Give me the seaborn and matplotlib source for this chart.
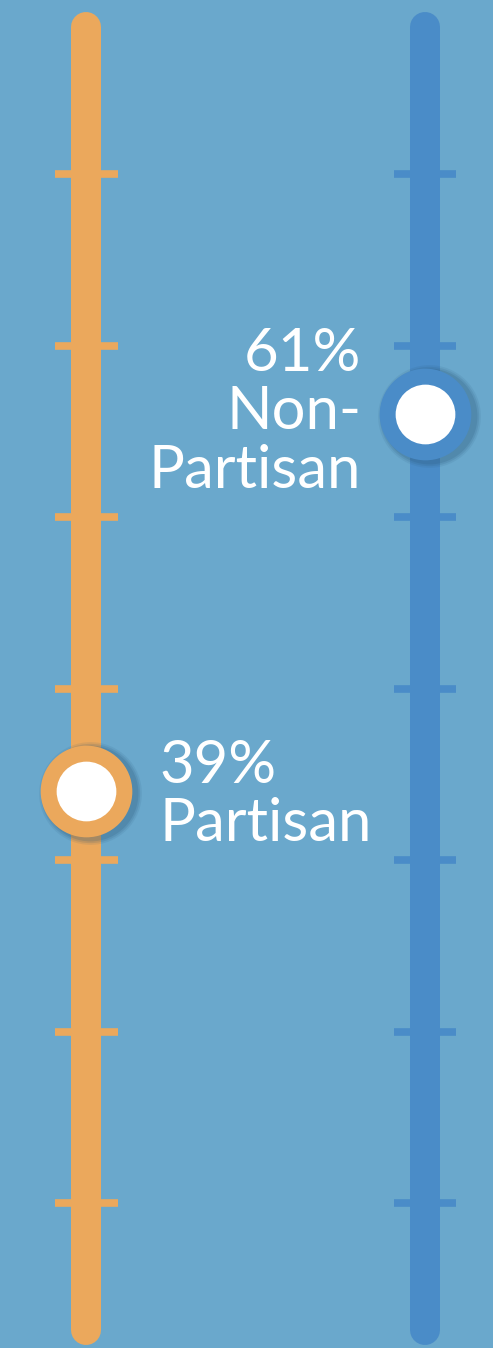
import matplotlib
matplotlib.use("Agg")
import matplotlib.pyplot as plt
import seaborn as sns
import pandas as pd

# ---- data ----
categories = ["Partisan", "Non-Partisan"]
values = [39, 61]
labels = ["39%\nPartisan", "61%\nNon-\nPartisan"]
tick_values = [15, 25, 35, 45, 55, 65, 75]
line_range = [7.6, 83.6]
colors = ["#eba85c", "#4a8cc8"]
bg = "#6aa8cc"

sns.set_theme(style="white")
plt.rcParams["font.family"] = ["Lato", "DejaVu Sans"]

fig = plt.figure(figsize=(4.93, 13.48), dpi=100, facecolor=bg)
ax = fig.add_axes([0, 0, 1, 1])
ax.set_facecolor(bg)

for i, (cat, val, col) in enumerate(zip(categories, values, colors)):
    # main vertical rail
    rail = pd.DataFrame({"x": [i, i], "y": line_range})
    sns.lineplot(data=rail, x="x", y="y", estimator=None, sort=False,
                 color=col, linewidth=21.6, solid_capstyle="round", ax=ax, zorder=2)
    # ticks
    for t in tick_values:
        tk = pd.DataFrame({"x": [i - 0.092, i + 0.092], "y": [t, t]})
        sns.lineplot(data=tk, x="x", y="y", estimator=None, sort=False,
                     color=col, linewidth=5.5, solid_capstyle="butt", ax=ax, zorder=2)
    # shadow halo
    pt = pd.DataFrame({"x": [i], "y": [val]})
    for k, a in enumerate([0.10, 0.14, 0.18]):
        sz = (74 - k * 2.5) ** 2
        sns.scatterplot(data=pt.assign(x=pt.x + 0.011, y=pt.y - 0.1), x="x", y="y", s=sz,
                        color="#2a5878", alpha=a, linewidth=0, ax=ax, zorder=3)
    sns.scatterplot(data=pt, x="x", y="y", s=66 ** 2, color=col,
                    linewidth=0, ax=ax, zorder=4)
    sns.scatterplot(data=pt, x="x", y="y", s=43 ** 2, color="white",
                    linewidth=0, ax=ax, zorder=5)

ax.text(0.215, values[0] - 0.2, labels[0], ha="left", va="center", color="white",
        fontsize=43, linespacing=1.1, zorder=6)
ax.text(0.811, values[1] + 0.1, labels[1], ha="right", va="center", color="white",
        fontsize=43, linespacing=1.1, multialignment="right", zorder=6)

ax.set_xlim(-0.255, 1.20)
ax.set_ylim(6.55, 85.15)
ax.set_axis_off()
if ax.get_legend():
    ax.get_legend().remove()

fig.savefig("out.png", dpi=100, facecolor=bg)
